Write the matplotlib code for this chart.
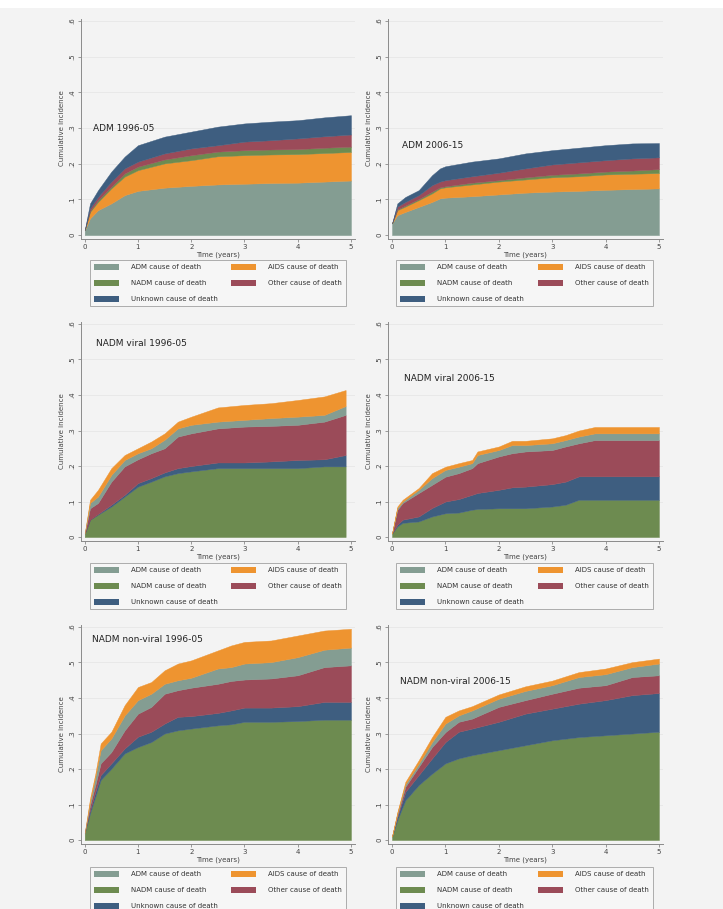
import numpy as np
import matplotlib
matplotlib.use("Agg")
import matplotlib.pyplot as plt
from matplotlib.patches import Patch, Rectangle

# ---------------- data (cumulative incidence by cause) ----------------
causes = ["ADM", "AIDS", "NADM", "Other", "Unknown"]
legend_labels = ["ADM cause of death", "AIDS cause of death", "NADM cause of death",
                 "Other cause of death", "Unknown cause of death"]
colors = {"ADM": "#849d92", "AIDS": "#ee9430", "NADM": "#6d8b50",
          "Other": "#9b4b59", "Unknown": "#3e5e80"}

titles = ["ADM 1996-05", "ADM 2006-15", "NADM viral 1996-05", "NADM viral 2006-15",
          "NADM non-viral 1996-05", "NADM non-viral 2006-15"]

# panel 1: ADM 1996-05
t1 = [0, 0.1, 0.25, 0.5, 0.75, 1, 1.5, 2, 2.5, 3, 3.5, 4, 4.5, 5]
p1_adm = [0.014, 0.047, 0.070, 0.089, 0.112, 0.124, 0.133, 0.138, 0.142, 0.144, 0.146, 0.147, 0.150, 0.153]
p1_aids = [0, 0.018, 0.023, 0.042, 0.052, 0.058, 0.068, 0.072, 0.079, 0.080, 0.080, 0.080, 0.080, 0.080]
p1_nadm = [0, 0.003, 0.005, 0.005, 0.009, 0.010, 0.011, 0.014, 0.013, 0.014, 0.014, 0.014, 0.015, 0.015]
p1_other = [0, 0.007, 0.009, 0.014, 0.014, 0.014, 0.017, 0.019, 0.018, 0.024, 0.026, 0.030, 0.032, 0.034]
p1_unknown = [0, 0.014, 0.019, 0.028, 0.033, 0.046, 0.047, 0.047, 0.052, 0.051, 0.052, 0.051, 0.053, 0.054]

# panel 2: ADM 2006-15
t2 = [0, 0.1, 0.25, 0.5, 0.75, 0.9, 1, 1.5, 2, 2.5, 3, 3.5, 4, 4.5, 5]
p2_adm = [0.033, 0.056, 0.065, 0.079, 0.093, 0.103, 0.105, 0.109, 0.114, 0.119, 0.122, 0.124, 0.127, 0.129, 0.131]
p2_aids = [0, 0.014, 0.015, 0.019, 0.024, 0.028, 0.029, 0.033, 0.036, 0.037, 0.040, 0.041, 0.043, 0.043, 0.043]
p2_nadm = [0, 0.002, 0.003, 0.003, 0.005, 0.003, 0.003, 0.005, 0.004, 0.006, 0.007, 0.008, 0.008, 0.009, 0.011]
p2_other = [0, 0.008, 0.010, 0.011, 0.018, 0.016, 0.017, 0.018, 0.021, 0.025, 0.029, 0.031, 0.032, 0.034, 0.033]
p2_unknown = [0, 0.009, 0.014, 0.014, 0.028, 0.037, 0.039, 0.041, 0.040, 0.042, 0.040, 0.041, 0.042, 0.042, 0.040]

# panel 3: NADM viral 1996-05
t3 = [0, 0.1, 0.25, 0.5, 0.75, 1, 1.25, 1.5, 1.75, 2, 2.5, 3, 3.5, 4, 4.5, 4.9]
p3_nadm = [0.01, 0.049, 0.063, 0.086, 0.114, 0.142, 0.156, 0.171, 0.180, 0.185, 0.194, 0.194, 0.194, 0.194, 0.199, 0.199]
p3_unknown = [0, 0, 0.002, 0.005, 0.005, 0.010, 0.010, 0.011, 0.014, 0.015, 0.016, 0.016, 0.019, 0.023, 0.020, 0.032]
p3_other = [0, 0.032, 0.031, 0.065, 0.080, 0.067, 0.070, 0.068, 0.089, 0.092, 0.096, 0.101, 0.100, 0.099, 0.106, 0.113]
p3_adm = [0, 0.015, 0.018, 0.019, 0.018, 0.017, 0.014, 0.024, 0.023, 0.024, 0.019, 0.019, 0.022, 0.023, 0.019, 0.025]
p3_aids = [0, 0.009, 0.019, 0.019, 0.014, 0.014, 0.019, 0.018, 0.019, 0.023, 0.040, 0.042, 0.042, 0.047, 0.052, 0.045]

# panel 4: NADM viral 2006-15
t4 = [0, 0.1, 0.2, 0.5, 0.75, 1, 1.25, 1.5, 1.6, 2, 2.25, 2.5, 3, 3.25, 3.5, 3.8, 5]
p4_nadm = [0.01, 0.030, 0.040, 0.044, 0.058, 0.067, 0.069, 0.077, 0.079, 0.081, 0.081, 0.081, 0.086, 0.091, 0.105, 0.105, 0.105]
p4_unknown = [0, 0.005, 0.009, 0.014, 0.024, 0.033, 0.038, 0.042, 0.045, 0.052, 0.059, 0.061, 0.063, 0.065, 0.066, 0.066, 0.066]
p4_other = [0, 0.042, 0.047, 0.066, 0.065, 0.070, 0.073, 0.075, 0.084, 0.094, 0.096, 0.099, 0.096, 0.099, 0.093, 0.102, 0.102]
p4_adm = [0, 0.005, 0.004, 0.009, 0.019, 0.019, 0.018, 0.014, 0.023, 0.018, 0.023, 0.018, 0.019, 0.018, 0.019, 0.019, 0.019]
p4_aids = [0, 0.004, 0.005, 0.005, 0.014, 0.009, 0.010, 0.009, 0.010, 0.010, 0.012, 0.012, 0.014, 0.014, 0.017, 0.018, 0.018]

# panel 5: NADM non-viral 1996-05
t5 = [0, 0.1, 0.2, 0.3, 0.5, 0.75, 1, 1.25, 1.5, 1.75, 2, 2.5, 2.75, 3, 3.5, 4, 4.5, 5]
p5_nadm = [0.02, 0.075, 0.122, 0.169, 0.201, 0.244, 0.262, 0.276, 0.300, 0.309, 0.314, 0.323, 0.326, 0.333, 0.333, 0.335, 0.339, 0.339]
p5_unknown = [0, 0.009, 0.014, 0.014, 0.015, 0.014, 0.029, 0.029, 0.028, 0.038, 0.035, 0.035, 0.039, 0.040, 0.040, 0.042, 0.050, 0.050]
p5_other = [0, 0.014, 0.019, 0.033, 0.032, 0.051, 0.065, 0.070, 0.084, 0.075, 0.080, 0.082, 0.083, 0.079, 0.082, 0.087, 0.098, 0.103]
p5_adm = [0, 0.010, 0.023, 0.037, 0.038, 0.042, 0.038, 0.037, 0.028, 0.028, 0.028, 0.043, 0.039, 0.045, 0.046, 0.051, 0.049, 0.050]
p5_aids = [0, 0.009, 0.009, 0.019, 0.019, 0.029, 0.037, 0.033, 0.038, 0.047, 0.049, 0.051, 0.061, 0.061, 0.061, 0.061, 0.054, 0.053]

# panel 6: NADM non-viral 2006-15
t6 = [0, 0.1, 0.25, 0.5, 0.75, 1, 1.25, 1.5, 2, 2.5, 3, 3.5, 4, 4.5, 5]
p6_nadm = [0.01, 0.056, 0.112, 0.155, 0.187, 0.216, 0.230, 0.239, 0.253, 0.267, 0.281, 0.290, 0.295, 0.300, 0.305]
p6_unknown = [0, 0.009, 0.024, 0.028, 0.043, 0.060, 0.075, 0.075, 0.080, 0.089, 0.089, 0.094, 0.099, 0.108, 0.109]
p6_other = [0, 0.005, 0.014, 0.023, 0.032, 0.028, 0.028, 0.028, 0.042, 0.038, 0.042, 0.045, 0.042, 0.051, 0.050]
p6_adm = [0, 0.005, 0.007, 0.009, 0.014, 0.024, 0.018, 0.023, 0.023, 0.026, 0.024, 0.030, 0.031, 0.028, 0.033]
p6_aids = [0, 0.004, 0.007, 0.010, 0.014, 0.019, 0.014, 0.012, 0.012, 0.013, 0.013, 0.014, 0.016, 0.014, 0.014]

order_adm = ["ADM", "AIDS", "NADM", "Other", "Unknown"]
order_nadm = ["NADM", "Unknown", "Other", "ADM", "AIDS"]

panels = [
    (t1, {"ADM": p1_adm, "AIDS": p1_aids, "NADM": p1_nadm, "Other": p1_other, "Unknown": p1_unknown}, order_adm),
    (t2, {"ADM": p2_adm, "AIDS": p2_aids, "NADM": p2_nadm, "Other": p2_other, "Unknown": p2_unknown}, order_adm),
    (t3, {"ADM": p3_adm, "AIDS": p3_aids, "NADM": p3_nadm, "Other": p3_other, "Unknown": p3_unknown}, order_nadm),
    (t4, {"ADM": p4_adm, "AIDS": p4_aids, "NADM": p4_nadm, "Other": p4_other, "Unknown": p4_unknown}, order_nadm),
    (t5, {"ADM": p5_adm, "AIDS": p5_aids, "NADM": p5_nadm, "Other": p5_other, "Unknown": p5_unknown}, order_nadm),
    (t6, {"ADM": p6_adm, "AIDS": p6_aids, "NADM": p6_nadm, "Other": p6_other, "Unknown": p6_unknown}, order_nadm),
]
title_pos = [(0.155, 0.30), (0.18, 0.25), (0.21, 0.546), (0.23, 0.446), (0.13, 0.565), (0.15, 0.447)]

yticks = [0, 0.1, 0.2, 0.3, 0.4, 0.5, 0.6]
ytick_labels = ["0", ".1", ".2", ".3", ".4", ".5", ".6"]
xticks = [0, 1, 2, 3, 4, 5]

# ---------------- layout ----------------
W, H = 723, 909
BG = "#f3f3f3"
fig = plt.figure(figsize=(W / 100, H / 100), dpi=100, facecolor=BG)
fig.patches.append(Rectangle((0, 1 - 8 / H), 1, 8 / H, transform=fig.transFigure,
                             facecolor="white", edgecolor="none", zorder=0))

rows = [(18.5, 238.7), (321.5, 540.6), (624.5, 843.6)]
cols = [(80.7, 354.7), (388.0, 662.7)]
leg_cols = [(90, 346), (396, 653)]
leg_tops = [260, 563, 867]

plt.rcParams["font.family"] = ["DejaVu Sans"]

for i, (t, vals, order) in enumerate(panels):
    r, c = divmod(i, 2)
    top, bot = rows[r]
    left, right = cols[c]
    ax = fig.add_axes([left / W, 1 - bot / H, (right - left) / W, (bot - top) / H])
    ax.set_facecolor(BG)
    ax.set_xlim(-0.075, 5.07)
    ax.set_ylim(-0.010, 0.607)
    for y in yticks[1:]:
        ax.axhline(y, color="#e6e6e6", lw=0.6, zorder=0.5)
    tt = np.array(t, dtype=float)
    lower = np.zeros_like(tt)
    for cause in order:
        upper = lower + np.array(vals[cause], dtype=float)
        ax.fill_between(tt, lower, upper, facecolor=colors[cause], edgecolor=colors[cause],
                        lw=0.3, zorder=2)
        lower = upper
    for s in ["top", "right"]:
        ax.spines[s].set_visible(False)
    for s in ["left", "bottom"]:
        ax.spines[s].set_color("#8a8a8a")
        ax.spines[s].set_linewidth(0.7)
    ax.set_yticks(yticks)
    ax.set_yticklabels(ytick_labels, rotation=90, va="center")
    ax.set_xticks(xticks)
    ax.tick_params(direction="out", length=2.5, width=0.6, color="#8a8a8a",
                   labelsize=5, labelcolor="#444444", pad=1.5)
    ax.set_ylabel("Cumulative incidence", fontsize=5, color="#444444", labelpad=3)
    ax.set_xlabel("Time (years)", fontsize=5, color="#444444", labelpad=1)
    tx, ty = title_pos[i]
    ax.text(tx, ty, titles[i], fontsize=6.5, color="#222222", va="center", ha="left", zorder=3)

    handles = [Patch(facecolor=colors[k], edgecolor="none") for k in causes]
    # column-first fill: col1 ADM, NADM, Unknown ; col2 AIDS, Other
    hidx = [0, 2, 4, 1, 3]
    ll, lr = leg_cols[c]
    lt = leg_tops[r]
    leg = ax.legend([handles[j] for j in hidx], [legend_labels[j] for j in hidx],
                    ncol=2, loc="upper left",
                    bbox_to_anchor=(ll / W, 1 - lt / H, (lr - ll) / W, 0),
                    bbox_transform=fig.transFigure, mode="expand", borderaxespad=0,
                    fontsize=5, frameon=True, fancybox=False, handlelength=3.6,
                    handleheight=0.9, handletextpad=1.8, labelspacing=1.4,
                    borderpad=0.55, columnspacing=2.0)
    leg.get_frame().set_edgecolor("#9a9a9a")
    leg.get_frame().set_facecolor("#f7f7f7")
    leg.get_frame().set_linewidth(0.7)
    for txt in leg.get_texts():
        txt.set_color("#333333")

fig.savefig("out.png", dpi=100, facecolor=fig.get_facecolor())
